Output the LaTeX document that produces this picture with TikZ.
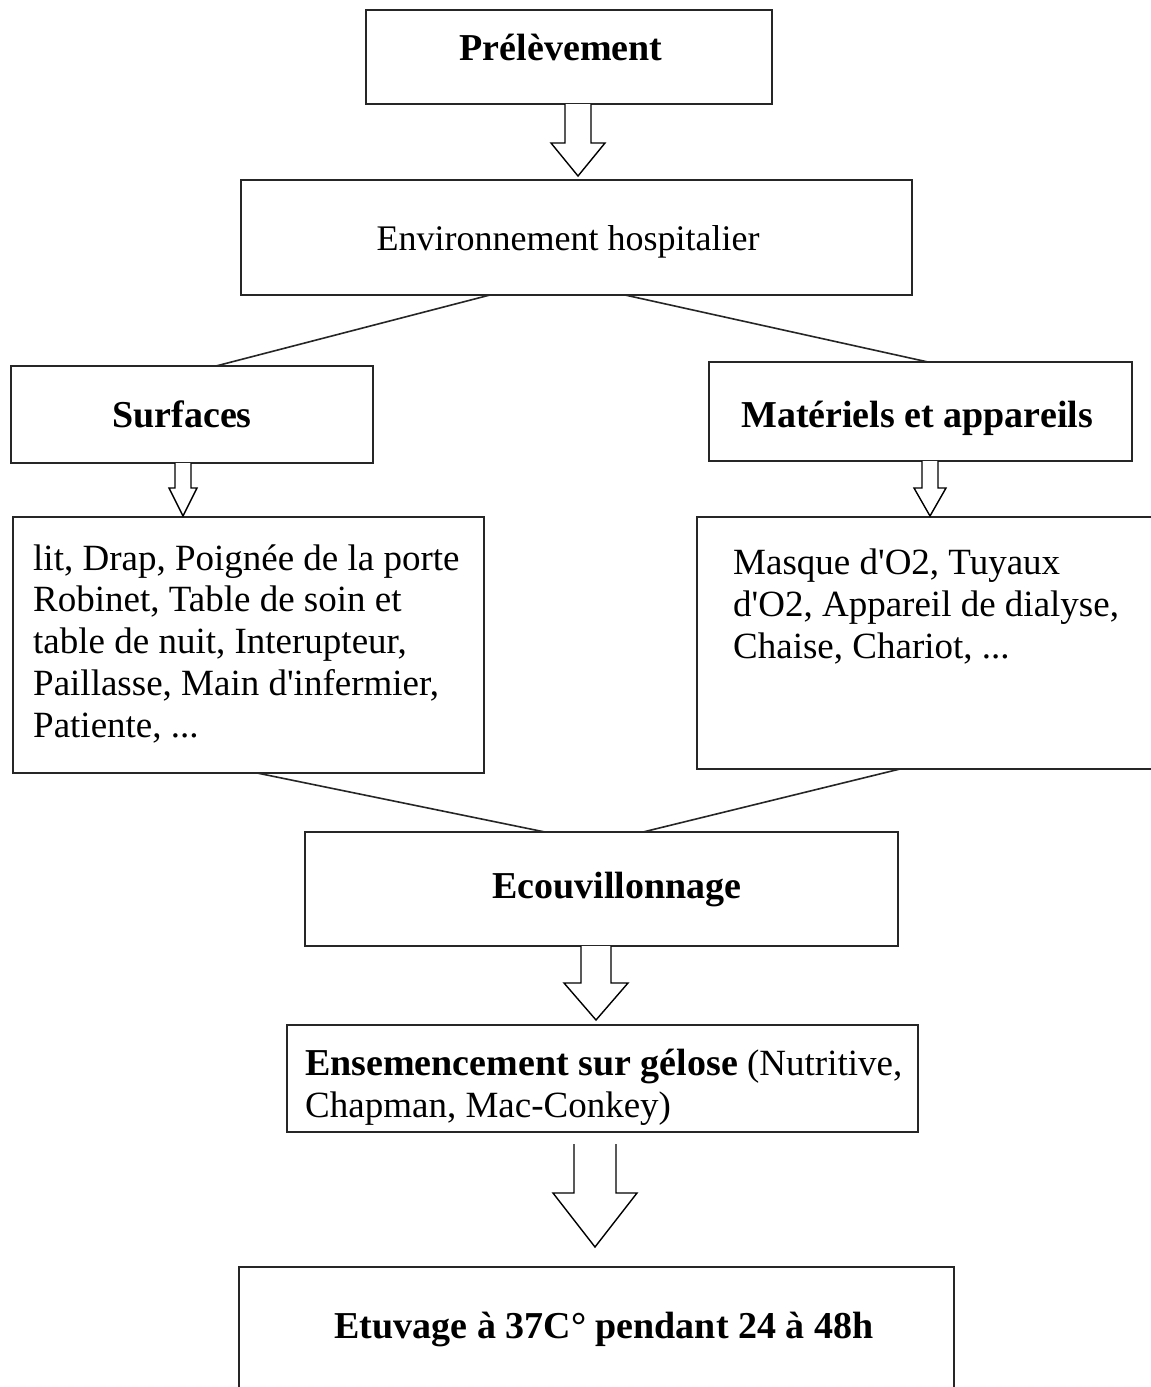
\documentclass[tikz,border=0pt]{standalone}
\usepackage{fontspec}
\setmainfont{Liberation Serif}
\tikzset{
  box/.style={draw=black!85, line width=1.9pt, rectangle, inner sep=0pt},
  txt/.style={inner sep=0pt, font=\fontsize{37}{41.7}\selectfont},
  btxt/.style={inner sep=0pt, font=\fontsize{38}{41.7}\selectfont\bfseries},
  conn/.style={draw=black!85, line width=1.6pt},
  barr/.style={draw=black, line width=1.4pt, line join=miter, fill=white},
}
\newcommand\blockarr[6]{% x, ytop, yhead, ytip, shaft half, head half
  \draw[barr] ({#1-#5},#2) -- ({#1-#5},#3) -- ({#1-#6},#3) -- (#1,#4) -- ({#1+#6},#3) -- ({#1+#5},#3) -- ({#1+#5},#2);
}
\begin{document}
\begin{tikzpicture}[x=1pt,y=-1pt]
\useasboundingbox (0,0) rectangle (1151,1387);
\fill[white] (0,0) rectangle (1151,1387);

% boxes
\node[box, minimum width=406pt, minimum height=94pt] (prel) at (569,57) {};
\node[box, minimum width=671pt, minimum height=115pt] (env) at (576.5,237.5) {};
\node[box, minimum width=362pt, minimum height=97pt] (surf) at (192,414.5) {};
\node[box, minimum width=423pt, minimum height=99pt] (mat) at (920.5,411.5) {};
\node[box, minimum width=471pt, minimum height=256pt] (lst1) at (248.5,645) {};
\node[box, minimum width=480pt, minimum height=252pt] (lst2) at (937,643) {};
\node[box, minimum width=593pt, minimum height=114pt] (ecou) at (601.5,889) {};
\node[box, minimum width=631pt, minimum height=107pt] (ens) at (602.5,1078.5) {};
\node[box, minimum width=715pt, minimum height=160pt] (etuv) at (596.5,1347) {};

% texts
\node[btxt, anchor=base] (tprel) at (561,60) {Prélèvement};
\node[txt, font=\fontsize{36}{41.7}\selectfont, anchor=base] (tenv) at (568,250) {Environnement hospitalier};
\node[btxt, anchor=base] (tsurf) at (182,427) {Surfaces};
\node[btxt, anchor=base] (tmat) at (917,427) {Matériels et appareils};
\node[txt, anchor=base west, align=left] (tlst1) at (33,737) {lit, Drap, Poignée de la porte\\Robinet, Table de soin et\\table de nuit, Interupteur,\\Paillasse, Main d\textquotesingle infermier,\\Patiente, ...};
\node[txt, anchor=base west, align=left] (tlst2) at (733,658) {Masque d\textquotesingle O2, Tuyaux\\d\textquotesingle O2, Appareil de dialyse,\\Chaise, Chariot, ...};
\node[btxt, anchor=base] (tecou) at (617,898) {Ecouvillonnage};
\node[txt, anchor=base west, align=left] (tens) at (305,1117) {{\fontsize{38}{41.7}\selectfont\bfseries Ensemencement sur gélose} (Nutritive,\\Chapman, Mac-Conkey)};
\node[btxt, anchor=base] (tetuv) at (604,1338) {Etuvage à 37C° pendant 24 à 48h};

% connector endpoints
\coordinate (e1) at (490,295);
\coordinate (e2) at (625,295);
\coordinate (s1) at (216,366);
\coordinate (m1) at (928,362);
\coordinate (l1) at (257,773);
\coordinate (l2) at (900,769);
\coordinate (c1) at (545,832);
\coordinate (c2) at (643,832);
\draw[conn] (e1) -- (s1);
\draw[conn] (e2) -- (m1);
\draw[conn] (l1) -- (c1);
\draw[conn] (l2) -- (c2);

% block arrows
\blockarr{578}{104}{143}{176}{13}{27}
\blockarr{183}{463}{488}{516}{8}{14}
\blockarr{930}{461}{488}{516}{8}{16}
\blockarr{596}{946}{983}{1020}{15}{32}
\blockarr{595}{1144}{1193}{1247}{21}{42}
\end{tikzpicture}
\end{document}
